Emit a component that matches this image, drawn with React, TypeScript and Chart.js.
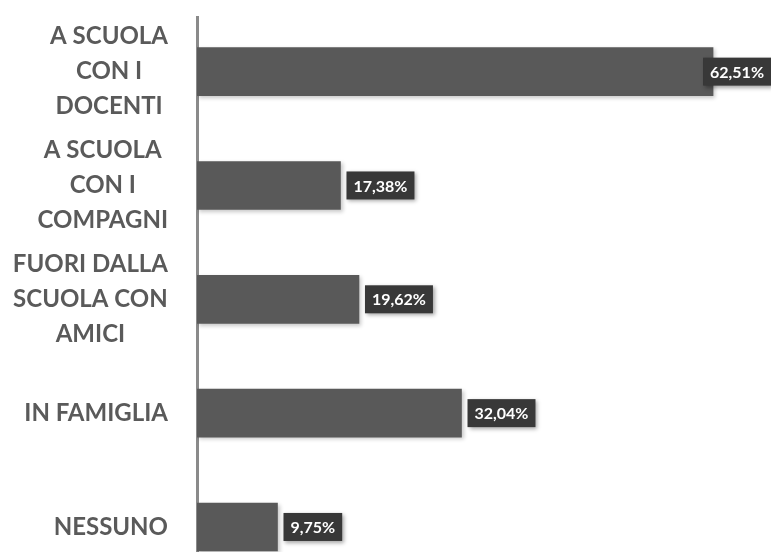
import React, { useEffect, useRef } from 'react';
import { Chart, registerables } from 'chart.js';

Chart.register(...registerables);

const categories: string[][] = [
  ['A SCUOLA', 'CON I', 'DOCENTI'],
  ['A SCUOLA', 'CON I', 'COMPAGNI'],
  ['FUORI DALLA', 'SCUOLA CON', 'AMICI'],
  ['IN FAMIGLIA'],
  ['NESSUNO'],
];
const values: number[] = [62.51, 17.38, 19.62, 32.04, 9.75];
const valueLabels: string[] = values.map((v) => v.toFixed(2).replace('.', ',') + '%');

const W = 771;
const H = 552;

const labelPlugin = {
  id: 'customLabels',
  beforeDatasetDraw(chart: any) {
    const ctx = chart.ctx;
    ctx.save();
    ctx.shadowColor = 'rgba(0,0,0,0.22)';
    ctx.shadowBlur = 4;
    ctx.shadowOffsetX = 2;
    ctx.shadowOffsetY = 2;
  },
  afterDatasetDraw(chart: any) {
    chart.ctx.restore();
  },
  afterDraw(chart: any) {
    const ctx = chart.ctx;
    const yScale = chart.scales.y;
    const xScale = chart.scales.x;
    // category labels
    ctx.save();
    ctx.font = '700 24px Lato';
    ctx.fillStyle = '#5a5a5a';
    ctx.textBaseline = 'middle';
    ctx.textAlign = 'center';
    const rightEdge = 168;
    const lineH = 35;
    categories.forEach((lines, i) => {
      const cy = yScale.getPixelForValue(i);
      const blockW = Math.max(...lines.map((l) => ctx.measureText(l).width));
      const cx = rightEdge - blockW / 2;
      const startY = cy - ((lines.length - 1) * lineH) / 2;
      lines.forEach((l, j) => {
        ctx.fillText(l, cx, startY + j * lineH);
      });
    });
    ctx.restore();

    // value labels
    ctx.save();
    ctx.font = '700 16px Lato';
    ctx.textBaseline = 'middle';
    ctx.textAlign = 'left';
    values.forEach((v, i) => {
      const cy = yScale.getPixelForValue(i);
      const endX = xScale.getPixelForValue(v);
      const text = valueLabels[i];
      const tw = ctx.measureText(text).width;
      const padX = 7;
      const boxW = tw + padX * 2;
      const boxH = 28;
      let bx = endX + 6;
      if (bx + boxW > W) bx = W - boxW;
      ctx.save();
      ctx.shadowColor = 'rgba(0,0,0,0.35)';
      ctx.shadowBlur = 4;
      ctx.shadowOffsetX = 2;
      ctx.shadowOffsetY = 2;
      ctx.fillStyle = '#383838';
      ctx.fillRect(bx, cy - boxH / 2, boxW, boxH);
      ctx.restore();
      ctx.fillStyle = '#ffffff';
      ctx.fillText(text, bx + padX, cy + 1);
    });
    ctx.restore();
  },
};

export default function App() {
  const ref = useRef<HTMLCanvasElement | null>(null);

  useEffect(() => {
    if (!ref.current) return;
    const chart = new Chart(ref.current, {
      type: 'bar',
      data: {
        datasets: [
          {
            data: values.map((v, i) => ({ x: v, y: i })),
            backgroundColor: '#595959',
            borderWidth: 0,
            barThickness: 48,
          },
        ],
      },
      options: {
        indexAxis: 'y',
        responsive: false,
        animation: false,
        layout: { padding: { top: 17, left: 0, right: 0, bottom: 0 } },
        plugins: {
          legend: { display: false },
          tooltip: { enabled: false },
        },
        scales: {
          x: {
            type: 'linear',
            min: 0,
            max: 69.53,
            display: false,
          },
          y: {
            type: 'linear',
            reverse: true,
            offset: false,
            min: -0.48,
            max: 4.22,
            ticks: { display: false },
            grid: { display: false, drawTicks: false, offset: false },
            border: { display: true, color: '#8a8a8a', width: 3 },
            afterFit: (s: any) => {
              s.width = 197;
            },
          },
        },
      },
      plugins: [labelPlugin],
    });
    return () => chart.destroy();
  }, []);

  return (
    <div style={{ position: 'fixed', left: 0, top: 0, width: W, height: H, background: '#ffffff' }}>
      <canvas ref={ref} width={W} height={H} style={{ width: W, height: H, display: 'block' }} />
    </div>
  );
}
